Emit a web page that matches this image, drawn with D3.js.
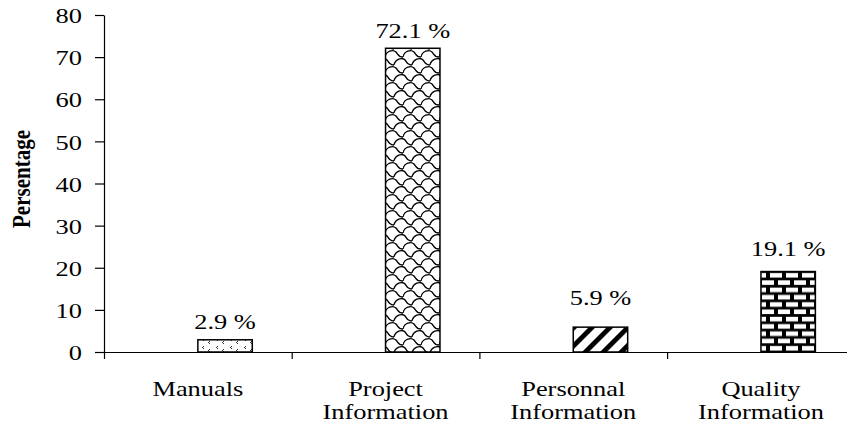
<!DOCTYPE html>
<html><head><meta charset="utf-8">
<script src="https://cdn.jsdelivr.net/npm/d3@7"></script>
<style>
body{margin:0;background:#fff;}
svg{display:block;}
text{font-family:"Liberation Serif","Times New Roman",serif;fill:#000;}
</style></head>
<body><svg id="c" width="847" height="434"></svg>
<script>
const categories = [["Manuals"], ["Project","Information"], ["Personnal","Information"], ["Quality","Information"]];
const values = [2.9, 72.1, 5.9, 19.1];
const valueLabels = ["2.9 %", "72.1 %", "5.9 %", "19.1 %"];
const yTicks = [0,10,20,30,40,50,60,70,80];
const yTitle = "Persentage";
const patterns = ["dots","scales","stripes","bricks"];

// layout/styling (not data)
const labelGap = [11, 10, 22, 16];
const SX = 1.2; // horizontal stretch of the original rendering
const FS = 22;

const svg = d3.select("#c");
const defs = svg.append("defs");

// Patterns
const pDots = defs.append("pattern").attr("id","dots").attr("patternUnits","userSpaceOnUse")
  .attr("width",14).attr("height",8).attr("x",198).attr("y",0);
pDots.append("rect").attr("width",14).attr("height",8).attr("fill","#fff");
[[5,2],[4,3],[5,4],[11,5],[10,6],[11,7]].forEach(([x,y])=>pDots.append("rect").attr("x",x).attr("y",y).attr("width",1).attr("height",1).attr("fill","#333"));

const pSc = defs.append("pattern").attr("id","scales").attr("patternUnits","userSpaceOnUse")
  .attr("width",18).attr("height",16).attr("x",385).attr("y",0);
pSc.append("rect").attr("width",18).attr("height",16).attr("fill","#fff");
const scale = "C1,3 8,1 11,4 C13,6 13,9 18,9";
[[0,0],[-9,8],[9,8],[-9,-8],[9,-8]].forEach(([dx,dy])=>
  pSc.append("path").attr("d",`M0,9 ${scale}`).attr("transform",`translate(${dx},${dy})`)
    .attr("fill","none").attr("stroke","#000").attr("stroke-width",1.3));

const pSt = defs.append("pattern").attr("id","stripes").attr("patternUnits","userSpaceOnUse")
  .attr("width",12.7).attr("height",12.7).attr("patternTransform","rotate(45)");
pSt.append("rect").attr("width",12.7).attr("height",12.7).attr("fill","#fff");
pSt.append("rect").attr("width",4.8).attr("height",12.7).attr("fill","#000");

const pBr = defs.append("pattern").attr("id","bricks").attr("patternUnits","userSpaceOnUse")
  .attr("width",16).attr("height",14.6).attr("x",760).attr("y",352);
pBr.append("rect").attr("width",16).attr("height",14.6).attr("fill","#000");
pBr.append("rect").attr("x",2).attr("y",1.3).attr("width",12).attr("height",4.6).attr("fill","#fff");
pBr.append("rect").attr("x",-6).attr("y",8.6).attr("width",12).attr("height",4.6).attr("fill","#fff");
pBr.append("rect").attr("x",10).attr("y",8.6).attr("width",12).attr("height",4.6).attr("fill","#fff");

// Scales
const x0 = 104, bandW = 187.7;
const x = d3.scaleBand().domain(d3.range(categories.length)).range([x0, x0 + bandW*categories.length]).paddingInner(0).paddingOuter(0);
const y = d3.scaleLinear().domain([0,80]).range([352,15]);
const xi = d3.scaleLinear().domain([0,categories.length]).range(x.range());

// Bars
const bw = x.bandwidth()*0.29;
svg.append("g").selectAll("rect").data(values).join("rect")
  .attr("x",(d,i)=>x(i)+x.bandwidth()/2)
  .attr("y",d=>y(d))
  .attr("width",bw)
  .attr("height",d=>y(0)-y(d))
  .attr("fill",(d,i)=>`url(#${patterns[i]})`)
  .attr("stroke","#000").attr("stroke-width",1.5);

// Value labels
svg.append("g").selectAll("text").data(values).join("text")
  .attr("transform",(d,i)=>`translate(${x(i)+x.bandwidth()/2+bw/2},${y(d)-labelGap[i]}) scale(${SX},1)`)
  .attr("text-anchor","middle").attr("font-size",FS)
  .text((d,i)=>valueLabels[i]);

// X axis
const gx = svg.append("g").attr("transform",`translate(0,${y(0)})`)
  .call(d3.axisBottom(xi).tickValues(d3.range(categories.length)).tickSize(7).tickSizeOuter(0).tickFormat(""));
gx.select(".domain").attr("stroke","#000").attr("stroke-width",1.2);
gx.selectAll(".tick line").attr("stroke","#000").attr("stroke-width",1.2);

// Y axis
const gy = svg.append("g").attr("transform",`translate(${x0},0)`)
  .call(d3.axisLeft(y).tickValues(yTicks).tickSize(9).tickSizeOuter(0).tickFormat(d3.format("d")));
gy.select(".domain").attr("stroke","#000").attr("stroke-width",1.2);
gy.selectAll(".tick line").attr("stroke","#000").attr("stroke-width",1.2);
gy.selectAll(".tick text").attr("x",null).attr("dy",null)
  .attr("transform",`translate(-22,0) scale(${SX},1)`)
  .attr("dominant-baseline","central")
  .attr("font-size",FS).attr("font-family",'"Liberation Serif","Times New Roman",serif').attr("fill","#000");

// Category labels
const cl = svg.append("g").selectAll("text").data(categories).join("text")
  .attr("transform",(d,i)=>`translate(${x(i)+x.bandwidth()/2},396) scale(${SX},1)`)
  .attr("text-anchor","middle").attr("font-size",FS);
cl.selectAll("tspan").data(d=>d).join("tspan")
  .attr("x",0).attr("dy",(d,j)=>j===0?0:23).text(d=>d);

// Y title
svg.append("text")
  .attr("transform",`translate(30,179) scale(${SX},1) rotate(-90)`)
  .attr("text-anchor","middle").attr("font-size",21).attr("font-weight","bold")
  .text(yTitle);
</script></body></html>
